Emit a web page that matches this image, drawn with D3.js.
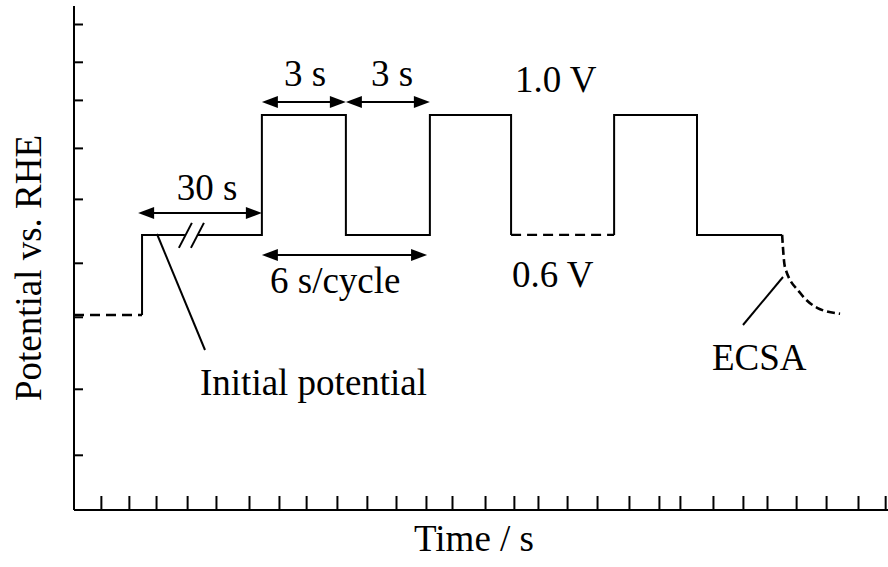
<!DOCTYPE html>
<html>
<head>
<meta charset="utf-8">
<script src="https://cdn.jsdelivr.net/npm/d3@7"></script>
<style>
  body { margin: 0; background: #fff; }
  text { font-family: "Liberation Serif", "Times New Roman", serif; fill: #000; }
</style>
</head>
<body>
<div id="content"></div>
<script>
// Potential step protocol (schematic), times in s, potentials in V
var w = 888,
    h = 567;

// edges of each hold and its potential
var tEdges = [0, 2.43, 6.71, 9.71, 12.71, 15.61, 19.29, 22.25, 25.29];
var levels = [0.333, 0.6, 1.0, 0.6, 1.0, 0.6, 1.0, 0.6];
var dashedSeg = [true, false, false, false, false, true, false, false];
var breakAt = [3.96, 4.39]; // the 30 s hold is drawn broken

// ECSA decay at the end
var ecsaT = [25.29, 25.39, 25.93, 26.54, 27.36];
var ecsaV = [0.6, 0.493, 0.407, 0.357, 0.337];

// unlabelled ticks as they sit on the axes
var xTicks = [0.96, 1.96, 2.93, 4.04, 5.07, 6.25, 7.32, 8.29, 9.39, 10.46, 11.5, 12.57, 13.5,
              14.68, 15.71, 16.57, 17.61, 18.68, 19.82, 20.89, 21.64, 22.82, 23.89, 24.75,
              25.79, 26.86, 28.0, 28.97];
var yTicks = [1.303, 1.177, 1.05, 0.89, 0.72, 0.507, 0.327, 0.087, -0.133];

// double arrows: [from, to, potential]
var arrows = [
    [2.29, 6.71, 0.673],   // 30 s
    [6.71, 9.71, 1.043],   // 3 s
    [9.71, 12.71, 1.043],  // 3 s
    [6.71, 12.61, 0.533]   // 6 s/cycle
];

var x = d3.scaleLinear().domain([0, 29]).range([74, 886]);
var y = d3.scaleLinear().domain([-0.317, 1.363]).range([510, 6]);

var svg = d3.select("#content")
    .append("svg")
    .attr("width", w)
    .attr("height", h);

// axes
var yAxis = svg.append("g")
    .attr("transform", "translate(" + x(0) + ",0)")
    .call(d3.axisRight(y).tickValues(yTicks).tickSize(9).tickSizeOuter(0).tickFormat(""));
var xAxis = svg.append("g")
    .attr("transform", "translate(0," + y.range()[0] + ")")
    .call(d3.axisTop(x).tickValues(xTicks).tickSize(14).tickSizeOuter(0).tickFormat(""));
svg.selectAll(".domain, .tick line").attr("stroke", "#000").attr("stroke-width", 2);
yAxis.select(".domain").attr("d", "M0,6V510");
xAxis.select(".domain").attr("d", "M74,0H888");

// build solid and dashed runs of the step trace
var runs = [];
var cur = null;
for (var i = 0; i < levels.length; i++) {
    var a = tEdges[i], b = tEdges[i + 1], v = levels[i];
    if (dashedSeg[i]) {
        if (cur) { cur.push([a, v]); runs.push({dash: false, pts: cur}); cur = null; }
        runs.push({dash: true, pts: [[a, v], [b, v]]});
        continue;
    }
    if (!cur) cur = [[a, i > 0 ? levels[i - 1] : v]];
    cur.push([a, v]);
    if (a < breakAt[0] && b > breakAt[1]) cur.push([breakAt[0], v], [NaN, v], [breakAt[1], v]);
    cur.push([b, v]);
}
if (cur) runs.push({dash: false, pts: cur});

var line = d3.line()
    .defined(function(d) { return !isNaN(d[0]); })
    .x(function(d) { return x(d[0]); })
    .y(function(d) { return y(d[1]); });

svg.selectAll("path.trace")
    .data(runs)
    .enter()
    .append("path")
    .attr("class", "trace")
    .attr("d", function(d) { return line(d.pts); })
    .attr("fill", "none")
    .attr("stroke", "#000")
    .attr("stroke-width", function(d) { return d.dash ? 2.4 : 2; })
    .attr("stroke-linejoin", "miter")
    .attr("stroke-dasharray", function(d) { return d.dash ? "10,6" : null; });

// ECSA tail
svg.append("path")
    .attr("d", d3.line().curve(d3.curveMonotoneX)
        .x(function(d) { return x(d); })
        .y(function(d, i) { return y(ecsaV[i]); })(ecsaT))
    .attr("fill", "none")
    .attr("stroke", "#000")
    .attr("stroke-width", 2.6)
    .attr("stroke-dasharray", "8,4");

// break slashes
breakAt.forEach(function(t) {
    var cx = x(t), cy = y(0.6);
    svg.append("line")
        .attr("x1", cx - 6).attr("y1", cy + 13)
        .attr("x2", cx + 7).attr("y2", cy - 12)
        .attr("stroke", "#000").attr("stroke-width", 2);
});

// double arrows
var head = 16, half = 6;
arrows.forEach(function(d) {
    var x1 = x(d[0]), x2 = x(d[1]), yy = y(d[2]);
    svg.append("line")
        .attr("x1", x1 + head - 2).attr("x2", x2 - head + 2)
        .attr("y1", yy).attr("y2", yy)
        .attr("stroke", "#000").attr("stroke-width", 2);
    svg.append("path")
        .attr("d", "M" + x1 + "," + yy + "L" + (x1 + head) + "," + (yy - half) + "L" + (x1 + head) + "," + (yy + half) + "Z")
        .attr("fill", "#000");
    svg.append("path")
        .attr("d", "M" + x2 + "," + yy + "L" + (x2 - head) + "," + (yy - half) + "L" + (x2 - head) + "," + (yy + half) + "Z")
        .attr("fill", "#000");
});

// leader lines
svg.append("line").attr("x1", 157).attr("y1", 234).attr("x2", 205).attr("y2", 350)
    .attr("stroke", "#000").attr("stroke-width", 2);
svg.append("line").attr("x1", 783).attr("y1", 277).attr("x2", 743).attr("y2", 325)
    .attr("stroke", "#000").attr("stroke-width", 2);

// labels
function label(txt, px, py, anchor) {
    return svg.append("text")
        .attr("x", px).attr("y", py)
        .attr("text-anchor", anchor || "start")
        .attr("font-size", 37)
        .text(txt);
}
label("30 s", 207, 200, "middle");
label("3 s", 305, 86, "middle");
label("3 s", 392, 86, "middle");
label("1.0 V", 515, 92);
label("6 s/cycle", 270, 293);
label("0.6 V", 512, 287);
label("Initial potential", 200, 395);
label("ECSA", 712, 370);
label("Time / s", 474, 551, "middle");

svg.append("text")
    .attr("transform", "translate(41,268) rotate(-90)")
    .attr("text-anchor", "middle")
    .attr("font-size", 37)
    .text("Potential vs. RHE");
</script>
</body>
</html>
